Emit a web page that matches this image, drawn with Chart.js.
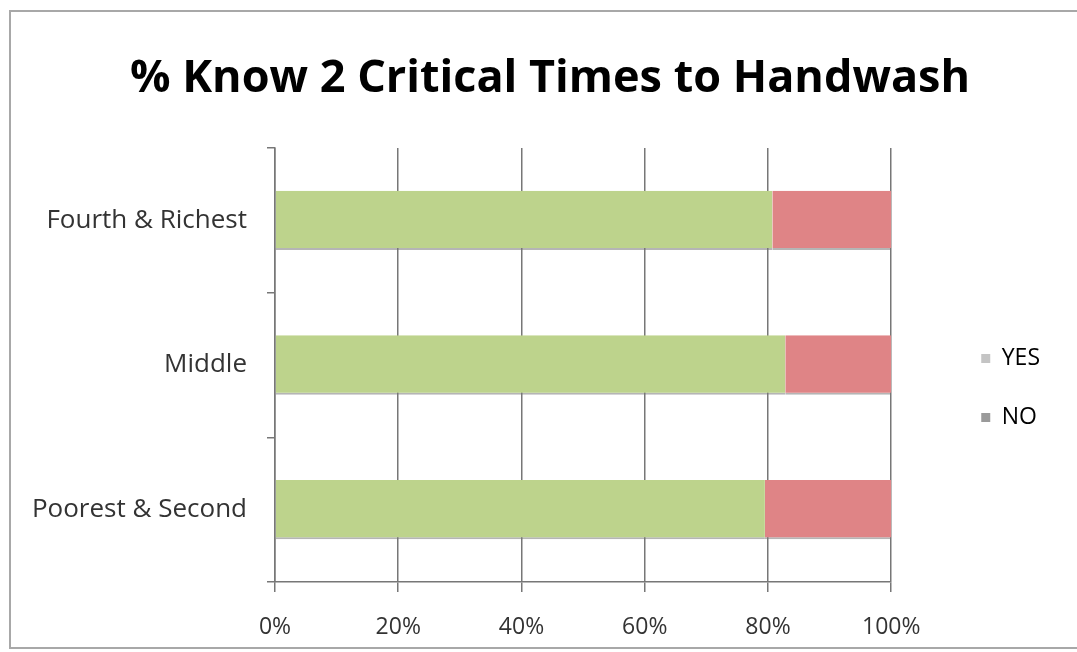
<!DOCTYPE html>
<html lang="en">
  <head>
    <meta charset="UTF-8" />
    <title>% Know 2 Critical Times to Handwash</title>
    <style>
      body {
        margin: 0;
        background: #fff;
      }
      #wrap {
        position: relative;
        width: 1077px;
        height: 652px;
      }
      #frame {
        position: absolute;
        left: 9px;
        top: 10px;
        width: 1100px;
        height: 639px;
        border: 2px solid #a8a8a8;
        box-sizing: border-box;
      }
      #chart {
        position: absolute;
        left: 0;
        top: 0;
      }
    </style>
  </head>
  <body>
    <div id="wrap">
      <div id="frame"></div>
      <canvas id="chart" width="1077" height="652"></canvas>
    </div>
    <script src="https://cdn.jsdelivr.net/npm/chart.js"></script>
    <script>
      // 財産階層ごとの回答（%）
      const groups = ["Fourth & Richest", "Middle", "Poorest & Second"];
      const yesPct = [80.7, 82.8, 79.5];
      const noPct = [19.3, 17.2, 20.5];
      const xTicks = [0, 20, 40, 60, 80, 100];

      // 凡例とタイトルの位置を微調整
      const blockShift = {
        id: "blockShift",
        afterLayout(chart) {
          const lg = chart.legend;
          if (lg) {
            lg.left += 54;
            lg.right += 54;
            lg.top += 58;
            lg.bottom += 58;
          }
          const tb = chart.titleBlock;
          if (tb) {
            tb.left += 37;
            tb.right += 37;
          }
        },
      };

      const ctx = document.getElementById("chart");
      new Chart(ctx, {
        type: "bar",
        data: {
          labels: groups,
          datasets: [
            {
              label: "YES",
              data: yesPct,
              backgroundColor: "#bdd38c",
              borderColor: "rgba(120,120,120,0.55)",
              borderWidth: { top: 0, right: 0, left: 0, bottom: 2 },
              borderSkipped: false,
              barPercentage: 0.41,
              categoryPercentage: 1,
            },
            {
              label: "NO",
              data: noPct,
              backgroundColor: "#df8486",
              borderColor: "rgba(120,120,120,0.55)",
              borderWidth: { top: 0, right: 0, left: 0, bottom: 2 },
              borderSkipped: false,
              barPercentage: 0.41,
              categoryPercentage: 1,
            },
          ],
        },
        plugins: [blockShift],
        options: {
          indexAxis: "y",
          responsive: false,
          animation: false,
          layout: {
            padding: { left: 30, right: 81, top: 20, bottom: 12 },
          },
          plugins: {
            title: {
              display: true,
              text: "% Know 2 Critical Times to Handwash",
              color: "#000",
              font: { family: "Open Sans", size: 45, weight: "bold" },
              padding: { top: 32, bottom: 42 },
            },
            legend: {
              position: "right",
              align: "center",
              labels: {
                color: "#333",
                font: { family: "Open Sans", size: 23 },
                boxWidth: 9,
                boxHeight: 9,
                padding: 36,
                generateLabels: (chart) =>
                  chart.data.datasets.map((ds, i) => ({
                    text: ds.label,
                    fillStyle: i === 0 ? "#c4c4c4" : "#9a9a9a",
                    strokeStyle: "transparent",
                    lineWidth: 0,
                    datasetIndex: i,
                  })),
              },
            },
            tooltip: { enabled: false },
          },
          scales: {
            x: {
              stacked: true,
              min: 0,
              max: 100,
              afterBuildTicks: (axis) => {
                axis.ticks = xTicks.map((v) => ({ value: v }));
              },
              afterFit: (axis) => {
                axis.height = 58;
              },
              ticks: {
                color: "#333",
                font: { family: "Open Sans", size: 23 },
                callback: (v) => v + "%",
                padding: 22,
              },
              grid: {
                color: "#777",
                lineWidth: 1.5,
                tickLength: 10,
              },
              border: { color: "#777", width: 1.5 },
            },
            y: {
              stacked: true,
              afterFit: (axis) => {
                axis.width = 245;
              },
              ticks: {
                color: "#333",
                font: { family: "Open Sans", size: 26 },
                padding: 20,
              },
              grid: {
                offset: true,
                drawOnChartArea: false,
                color: "#777",
                lineWidth: 1.5,
                tickLength: 8,
              },
              border: { color: "#777", width: 1.5 },
            },
          },
        },
      });
    </script>
  </body>
</html>
